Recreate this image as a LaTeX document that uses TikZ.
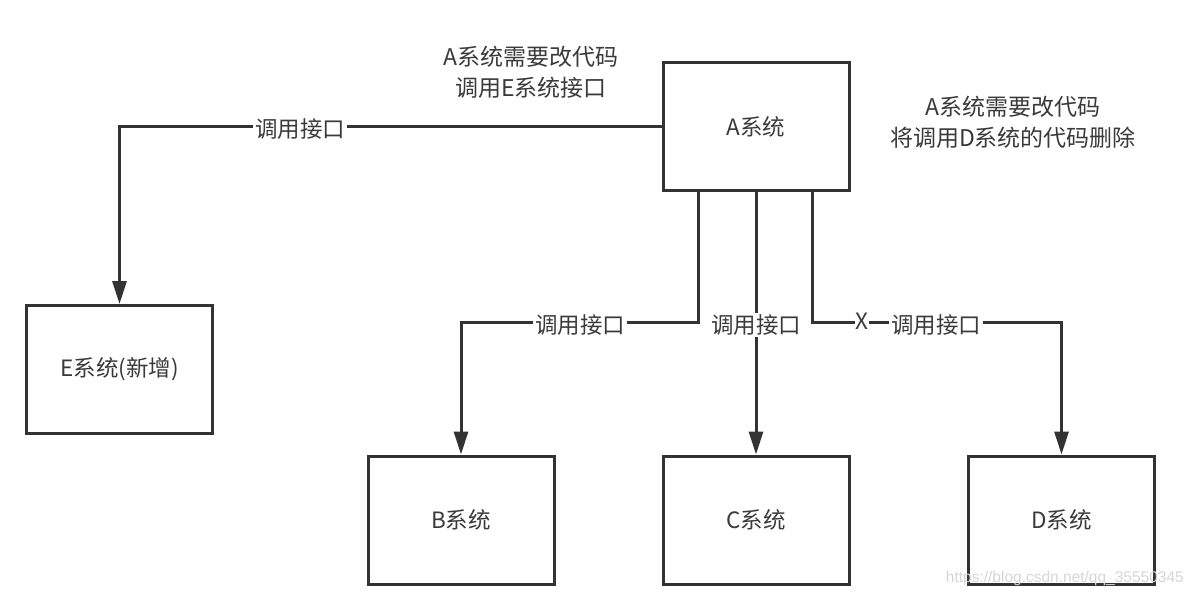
\documentclass[tikz,border=0pt]{standalone}
\usepackage{fontspec}
\newfontfamily\cjk{Noto Sans CJK SC}
\setmainfont{Liberation Sans}
\usetikzlibrary{arrows.meta,calc}
\definecolor{linec}{HTML}{333333}
\definecolor{textc}{HTML}{3a3a3a}
\begin{document}
\begin{tikzpicture}[x=1pt,y=-1pt,
  sysbox/.style={draw=linec,line width=3pt,fill=white,minimum width=186pt,minimum height=128pt,inner sep=0pt,text=textc,font=\cjk\fontsize{22.5}{28}\selectfont},
  conn/.style={draw=linec,line width=3pt},
  arr/.style={conn,-{Triangle[length=23pt,width=14pt]}},
  lbl/.style={fill=white,inner sep=2pt,text=textc,font=\cjk\fontsize{22.5}{28}\selectfont},
  note/.style={align=center,text=textc,inner sep=0pt,font=\cjk\fontsize{23}{31}\selectfont},
  wm/.style={text=black!16,inner sep=0pt,font=\fontsize{15.5}{17}\selectfont}]
\useasboundingbox (0,0) rectangle (1194,596);
\fill[white] (0,0) rectangle (1194,596);

\node[sysbox] (A) at (756,127) {A系统};
\node[sysbox] (E) at (119.5,369.5) {E系统(新增)};
\node[sysbox] (B) at (461,520) {B系统};
\node[sysbox] (C) at (756,520) {C系统};
\node[sysbox] (D) at (1061.5,520) {D系统};

\draw[arr] (A.west) -| (E.north);
\node[lbl] at (300,129) (lE) {调用接口};
\draw[arr] ([xshift=-58pt]A.south) |- (B.north |- 0,322) -- (B.north);
\node[lbl] at (580,325) (lB) {调用接口};
\draw[arr] (A.south) -- (C.north);
\node[lbl] at (756,325) (lC) {调用接口};
\draw[arr] ([xshift=56pt]A.south) |- (D.north |- 0,322) -- (D.north);
\node[lbl] at (936,325) (lD) {调用接口};
\node[lbl,inner sep=1pt] at (862,321) (X) {X};

\node[note] (n1) at (531,72) {A系统需要改代码\\调用E系统接口};
\node[note] (n2) at (1013,122) {A系统需要改代码\\将调用D系统的代码删除};
\node[wm,anchor=east] (wmk) at (1184,578) {https://blog.csdn.net/qq\_35550345};
\end{tikzpicture}
\end{document}
